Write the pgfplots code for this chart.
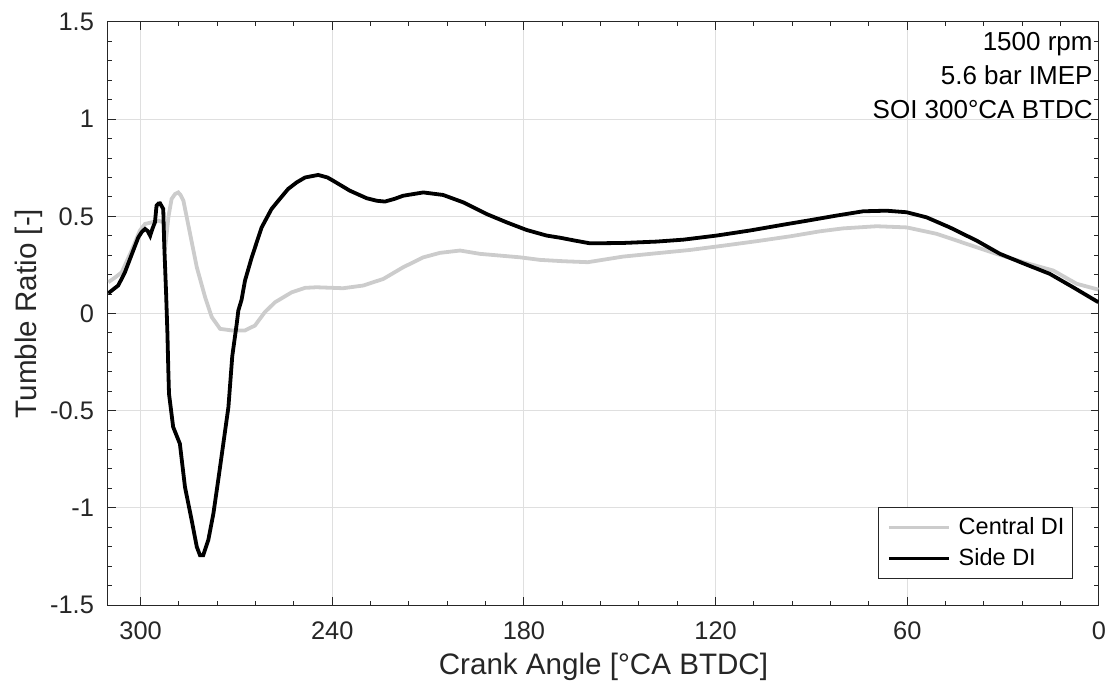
\documentclass[border=0pt]{standalone}
\usepackage{pgfplots}
\pgfplotsset{compat=1.18}
\usepackage{fontspec}
\setmainfont{Liberation Sans}
\definecolor{cgray}{RGB}{204,204,204}
\definecolor{axc}{RGB}{38,38,38}
\definecolor{gridc}{RGB}{223,223,223}
\pgfplotstableread{
x y
310.1 0.161
308.0 0.185
305.9 0.212
302.8 0.324
300.2 0.427
298.6 0.461
296.5 0.469
294.5 0.478
293.0 0.470
292.0 0.384
291.3 0.495
290.3 0.589
289.2 0.615
288.2 0.623
287.5 0.610
286.6 0.581
284.5 0.410
282.4 0.238
279.8 0.084
277.7 -0.019
275.1 -0.079
271.5 -0.087
267.3 -0.087
264.2 -0.062
261.1 0.007
257.9 0.058
252.7 0.109
248.5 0.132
244.9 0.135
236.6 0.130
230.3 0.144
224.0 0.178
217.8 0.238
211.5 0.289
206.3 0.312
200.0 0.324
193.8 0.307
187.5 0.298
181.2 0.289
175.0 0.276
167.7 0.269
160.0 0.264
148.9 0.293
138.5 0.310
128.0 0.327
117.6 0.349
107.2 0.372
96.7 0.397
87.3 0.423
80.1 0.438
69.6 0.449
60.2 0.443
50.8 0.410
41.4 0.358
32.1 0.307
23.7 0.264
14.3 0.221
7.0 0.153
0.2 0.123
}\central
\pgfplotstableread{
x y
310.1 0.104
308.5 0.125
307.0 0.144
304.9 0.212
302.3 0.324
300.7 0.392
299.6 0.420
298.6 0.435
297.8 0.425
297.0 0.400
296.2 0.440
295.5 0.469
295.0 0.555
294.4 0.566
293.9 0.567
292.9 0.538
292.6 0.358
292.0 0.100
291.6 -0.100
291.3 -0.300
291.1 -0.413
289.8 -0.584
287.7 -0.670
286.1 -0.893
284.0 -1.064
282.4 -1.201
281.4 -1.244
280.4 -1.244
278.8 -1.166
277.2 -1.029
275.7 -0.858
274.1 -0.670
272.5 -0.481
271.3 -0.220
269.9 -0.053
269.4 0.015
268.4 0.070
267.3 0.170
265.2 0.289
262.1 0.443
259.0 0.538
256.4 0.590
253.8 0.641
251.1 0.675
248.5 0.700
244.4 0.713
241.5 0.700
239.7 0.683
234.5 0.632
229.2 0.593
226.0 0.580
223.5 0.576
220.5 0.590
217.8 0.606
211.5 0.623
205.3 0.610
199.0 0.572
191.7 0.512
185.4 0.469
179.2 0.430
172.9 0.401
168.7 0.390
164.0 0.375
159.3 0.361
148.9 0.363
138.5 0.370
130.1 0.380
119.7 0.401
109.3 0.427
98.8 0.457
90.5 0.480
82.1 0.504
73.8 0.526
66.5 0.529
60.2 0.521
54.0 0.495
46.7 0.443
38.3 0.375
31.0 0.307
23.7 0.258
15.4 0.204
8.1 0.135
0.2 0.058
}\side
\begin{document}
\begin{tikzpicture}
\begin{axis}[
  name=ax, scale only axis, width=495.5pt, height=291.5pt,
  x dir=reverse, xmin=0, xmax=310.2, ymin=-1.5, ymax=1.5,
  xtick={0,60,120,180,240,300}, xticklabels={0,60,120,180,240,300},
  ytick={-1.5,-1,-0.5,0,0.5,1,1.5}, yticklabels={-1.5,-1,-0.5,0,0.5,1,1.5},
  minor x tick num=4, minor y tick num=4,
  major tick length=4pt, minor tick length=2.25pt,
  tick align=inside, tick pos=both,
  every tick/.style={axc, line width=0.5pt},
  axis line style={axc, line width=0.5pt},
  grid=major, major grid style={gridc, line width=0.5pt},
  tick label style={font=\fontsize{12.7}{15}\selectfont, text=axc},
  xticklabel style={yshift=-5pt},
  yticklabel style={xshift=-3.5pt},
  xlabel={Crank Angle [°CA BTDC]},
  ylabel={Tumble Ratio [-]},
  xlabel style={font=\fontsize{14.8}{17}\selectfont, text=axc, at={(axis description cs:0.5,-0.1184)}, anchor=base},
  ylabel style={font=\fontsize{14.8}{17}\selectfont, text=axc, at={(axis description cs:-0.0717,0.5)}, anchor=base},
  legend cell align=left,
  legend image code/.code={\draw[#1] (0pt,0pt) -- (30pt,0pt);},
  legend style={at={(axis description cs:0.9738,0.0446)}, anchor=south east,
    draw=axc, line width=0.5pt, font=\fontsize{11.75}{14}\selectfont,
    inner xsep=4pt, inner ysep=5pt, row sep=5.5pt, column sep=4pt,
    nodes={inner sep=0pt}},
]
\addplot[cgray, line width=1.9pt] table[x=x,y=y] {\central};
\addlegendentry{Central DI}
\addplot[black, line width=1.9pt] table[x=x,y=y] {\side};
\addlegendentry{Side DI}
\node[anchor=north east, align=right, inner sep=0pt,
  font=\fontsize{13}{17}\selectfont] at ([xshift=-3pt,yshift=-5pt]rel axis cs:1,1)
  {1500 rpm\\5.6 bar IMEP\\SOI 300°CA BTDC};
\end{axis}
\pgfresetboundingbox
\path ([shift={(-54pt,-43.5pt)}]ax.south west) rectangle ([shift={(5pt,11pt)}]ax.north east);
\end{tikzpicture}
\end{document}
